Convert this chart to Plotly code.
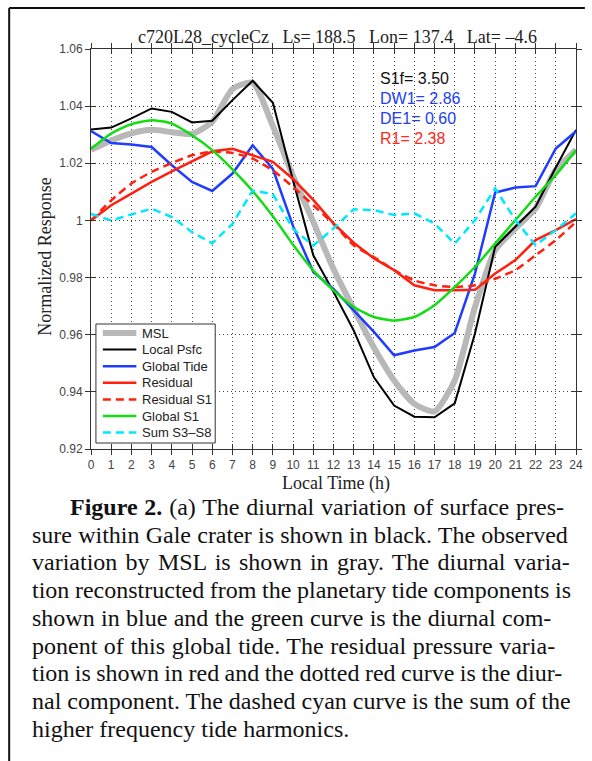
import plotly.graph_objects as go

hours = list(range(25))

msl = [1.0247, 1.0280, 1.0305, 1.0317, 1.0309, 1.0303, 1.0345, 1.0460, 1.0482, 1.0330,
       1.0155, 0.9995, 0.9830, 0.9690, 0.9555, 0.9440, 0.9358, 0.9332, 0.9440, 0.9697,
       0.9896, 0.9972, 1.0042, 1.0177, 1.0247]
local_psfc = [1.0318, 1.0325, 1.0357, 1.0392, 1.0380, 1.0343, 1.0349, 1.0421, 1.0489, 1.0412,
              1.0140, 0.9878, 0.9750, 0.9615, 0.9451, 0.9352, 0.9313, 0.9311, 0.9360, 0.9604,
              0.9908, 0.9978, 1.0048, 1.0185, 1.0317]
global_tide = [1.0313, 1.0271, 1.0266, 1.0257, 1.0193, 1.0135, 1.0103, 1.0164, 1.0263, 1.0180,
               0.9980, 0.9820, 0.9760, 0.9685, 0.9610, 0.9528, 0.9545, 0.9557, 0.9606, 0.9814,
               1.0098, 1.0115, 1.0120, 1.0252, 1.0312]
residual = [1.0000, 1.0053, 1.0094, 1.0135, 1.0172, 1.0208, 1.0242, 1.0251, 1.0229, 1.0205,
            1.0145, 1.0072, 0.9990, 0.9922, 0.9867, 0.9826, 0.9773, 0.9756, 0.9756, 0.9757,
            0.9814, 0.9861, 0.9931, 0.9966, 1.0005]
residual_s1 = [1.0000, 1.0070, 1.0129, 1.0170, 1.0201, 1.0228, 1.0240, 1.0236, 1.0216, 1.0175,
               1.0117, 1.0053, 0.9988, 0.9913, 0.9872, 0.9826, 0.9790, 0.9773, 0.9767, 0.9773,
               0.9796, 0.9826, 0.9878, 0.9931, 0.9995]
global_s1 = [1.0251, 1.0304, 1.0337, 1.0351, 1.0339, 1.0298, 1.0246, 1.0179, 1.0103, 1.0015,
             0.9915, 0.9825, 0.9755, 0.9697, 0.9662, 0.9650, 0.9662, 0.9703, 0.9767, 0.9837,
             0.9919, 1.0001, 1.0083, 1.0159, 1.0246]
sum_s3_s8 = [1.0023, 1.0000, 1.0021, 1.0041, 1.0012, 0.9959, 0.9920, 0.9988, 1.0105, 1.0092,
             0.9970, 0.9912, 0.9972, 1.0039, 1.0036, 1.0019, 1.0025, 0.9989, 0.9919, 1.0001,
             1.0112, 1.0001, 0.9913, 0.9966, 1.0025]

y_tickvals = [0.92, 0.94, 0.96, 0.98, 1.00, 1.02, 1.04, 1.06]
y_ticktext = ["0.92", "0.94", "0.96", "0.98", "1", "1.02", "1.04", "1.06"]
x_tickvals = list(range(25))

title_text = "c720L28_cycleCz\u00a0\u00a0 Ls= 188.5\u00a0\u00a0 Lon= 137.4\u00a0\u00a0 Lat= \u20134.6"
coef_labels = ["S1f= 3.50", "DW1= 2.86", "DE1= 0.60", "R1= 2.38"]
coef_colors = ["#111111", "#2241f0", "#2241f0", "#ff2a1a"]

caption_lines = [
    "<b>Figure 2.</b> (a) The diurnal variation of surface pres-",
    "sure within Gale crater is shown in black. The observed",
    "variation by MSL is shown in gray. The diurnal varia-",
    "tion reconstructed from the planetary tide components is",
    "shown in blue and the green curve is the diurnal com-",
    "ponent of this global tide. The residual pressure varia-",
    "tion is shown in red and the dotted red curve is the diur-",
    "nal component. The dashed cyan curve is the sum of the",
    "higher frequency tide harmonics.",
]
# extra word spacing (px) used to approximate the justified caption
caption_wordspacing = [0.8, 0.2, 2.3, -0.4, 0.35, 0.55, -0.55, 0.0, 0.0]

# ---- pixel layout helpers ----
W, H = 592, 761
L, R, T, B = 91, 583, 49, 449

def px(xp):
    return (xp - L) / (R - L)

def py(yp):
    return (B - yp) / (B - T)

fig = go.Figure()

series = [
    ("MSL", msl, dict(color="#b8b8b8", width=6), "spline"),
    ("Local Psfc", local_psfc, dict(color="#000000", width=2), "linear"),
    ("Global Tide", global_tide, dict(color="#1f3cff", width=2.5), "linear"),
    ("Residual", residual, dict(color="#ff2010", width=2.5), "linear"),
    ("Residual S1", residual_s1, dict(color="#ff2010", width=2.5, dash="8px,5px"), "spline"),
    ("Global S1", global_s1, dict(color="#12dd12", width=2.5), "spline"),
    ("Sum S3\u2013S8", sum_s3_s8, dict(color="#00e8ff", width=2.5, dash="8px,5px"), "linear"),
]
for name, vals, line, shape in series:
    ln = dict(line)
    ln["shape"] = shape
    if shape == "spline":
        ln["smoothing"] = 0.6
    fig.add_trace(go.Scatter(x=hours, y=vals, mode="lines", name=name, line=ln, showlegend=False))

# dummy trace for the overlaid axes (inside ticks -> crossing ticks)
fig.add_trace(go.Scatter(x=[], y=[], xaxis="x2", yaxis="y2", showlegend=False, hoverinfo="skip"))

tickfont = dict(family="Liberation Sans, Arial", size=12, color="#444444")

fig.update_layout(
    width=W, height=H,
    margin=dict(l=L, r=W - R, t=T, b=H - B, pad=0),
    paper_bgcolor="white", plot_bgcolor="white",
    showlegend=False,
    xaxis=dict(
        range=[0, 24], tickvals=x_tickvals, ticktext=[str(v) for v in x_tickvals],
        ticks="outside", ticklen=5, tickcolor="#333333", mirror="allticks",
        showline=True, linecolor="#333333", linewidth=1,
        showgrid=True, gridcolor="#444444", griddash="1px,3px", gridwidth=1,
        zeroline=False, tickfont=tickfont,
    ),
    yaxis=dict(
        range=[0.92, 1.06], tickvals=y_tickvals, ticktext=y_ticktext,
        ticks="outside", ticklen=5, tickcolor="#333333", mirror="allticks",
        showline=True, linecolor="#333333", linewidth=1,
        showgrid=True, gridcolor="#444444", griddash="1px,3px", gridwidth=1,
        zeroline=False, tickfont=tickfont,
    ),
    xaxis2=dict(
        range=[0, 24], tickvals=x_tickvals, overlaying="x", anchor="y2",
        ticks="inside", ticklen=5, tickcolor="#333333", mirror="allticks",
        showticklabels=False, showgrid=False, showline=False, zeroline=False,
    ),
    yaxis2=dict(
        range=[0.92, 1.06], tickvals=y_tickvals, overlaying="y", anchor="x2",
        ticks="inside", ticklen=5, tickcolor="#333333", mirror="allticks",
        showticklabels=False, showgrid=False, showline=False, zeroline=False,
    ),
)

ann = []
shapes = []
ann.append(dict(text=title_text, x=px(341), y=py(37), xref="paper", yref="paper",
                xanchor="center", yanchor="middle", showarrow=False,
                font=dict(family="Liberation Serif, Times New Roman", size=18, color="#222222")))
ann.append(dict(text="Local Time (h)", x=px(340), y=py(483), xref="paper", yref="paper",
                xanchor="center", yanchor="middle", showarrow=False,
                font=dict(family="Liberation Serif, Times New Roman", size=18, color="#222222")))
ann.append(dict(text="Normalized Response", x=px(44), y=py(257), xref="paper", yref="paper",
                xanchor="center", yanchor="middle", showarrow=False, textangle=-90,
                font=dict(family="Liberation Serif, Times New Roman", size=18, color="#222222")))
for i, (t, c) in enumerate(zip(coef_labels, coef_colors)):
    ann.append(dict(text=t, x=px(382), y=py(78 + 20 * i), xref="paper", yref="paper",
                    xanchor="left", yanchor="middle", showarrow=False,
                    font=dict(family="Liberation Sans, Arial", size=16, color=c)))

# legend box drawn from the series list
lg_x0, lg_x1, lg_y0, lg_y1 = 96, 217, 324, 443
shapes.append(dict(type="rect", xref="paper", yref="paper", layer="above",
                   x0=px(lg_x0), x1=px(lg_x1), y0=py(lg_y1), y1=py(lg_y0),
                   fillcolor="white", line=dict(color="#333333", width=1)))
for i, (name, vals, line, shape) in enumerate(series):
    yy = 333 + 16.6 * i
    shapes.append(dict(type="line", xref="paper", yref="paper", layer="above",
                       x0=px(103), x1=px(137), y0=py(yy), y1=py(yy),
                       line=dict(color=line["color"], width=line["width"],
                                 dash=line.get("dash", "solid"))))
    ann.append(dict(text=name, x=px(141), y=py(yy), xref="paper", yref="paper",
                    xanchor="left", yanchor="middle", showarrow=False,
                    font=dict(family="Liberation Sans, Arial", size=13, color="#222222")))

cap_y0, cap_dy = 507, 27.7
for i, t in enumerate(caption_lines):
    xl = 68 if i == 0 else 29
    ws = caption_wordspacing[i]
    txt = '<span style="word-spacing:%.2fpx">%s</span>' % (ws, t) if ws else t
    ann.append(dict(text=txt, x=px(xl), y=py(cap_y0 + cap_dy * i), xref="paper", yref="paper",
                    xanchor="left", yanchor="middle", showarrow=False,
                    font=dict(family="Liberation Serif, Times New Roman", size=24, color="#111111")))

# outer frame (left and top edges)
shapes.append(dict(type="line", xref="paper", yref="paper", x0=px(8), x1=px(8), y0=py(8), y1=py(H + 5),
                   line=dict(color="#111111", width=2)))
shapes.append(dict(type="line", xref="paper", yref="paper", x0=px(8), x1=px(592), y0=py(8), y1=py(8),
                   line=dict(color="#111111", width=2)))

fig.update_layout(annotations=ann, shapes=shapes)
fig.write_html("out.html")
